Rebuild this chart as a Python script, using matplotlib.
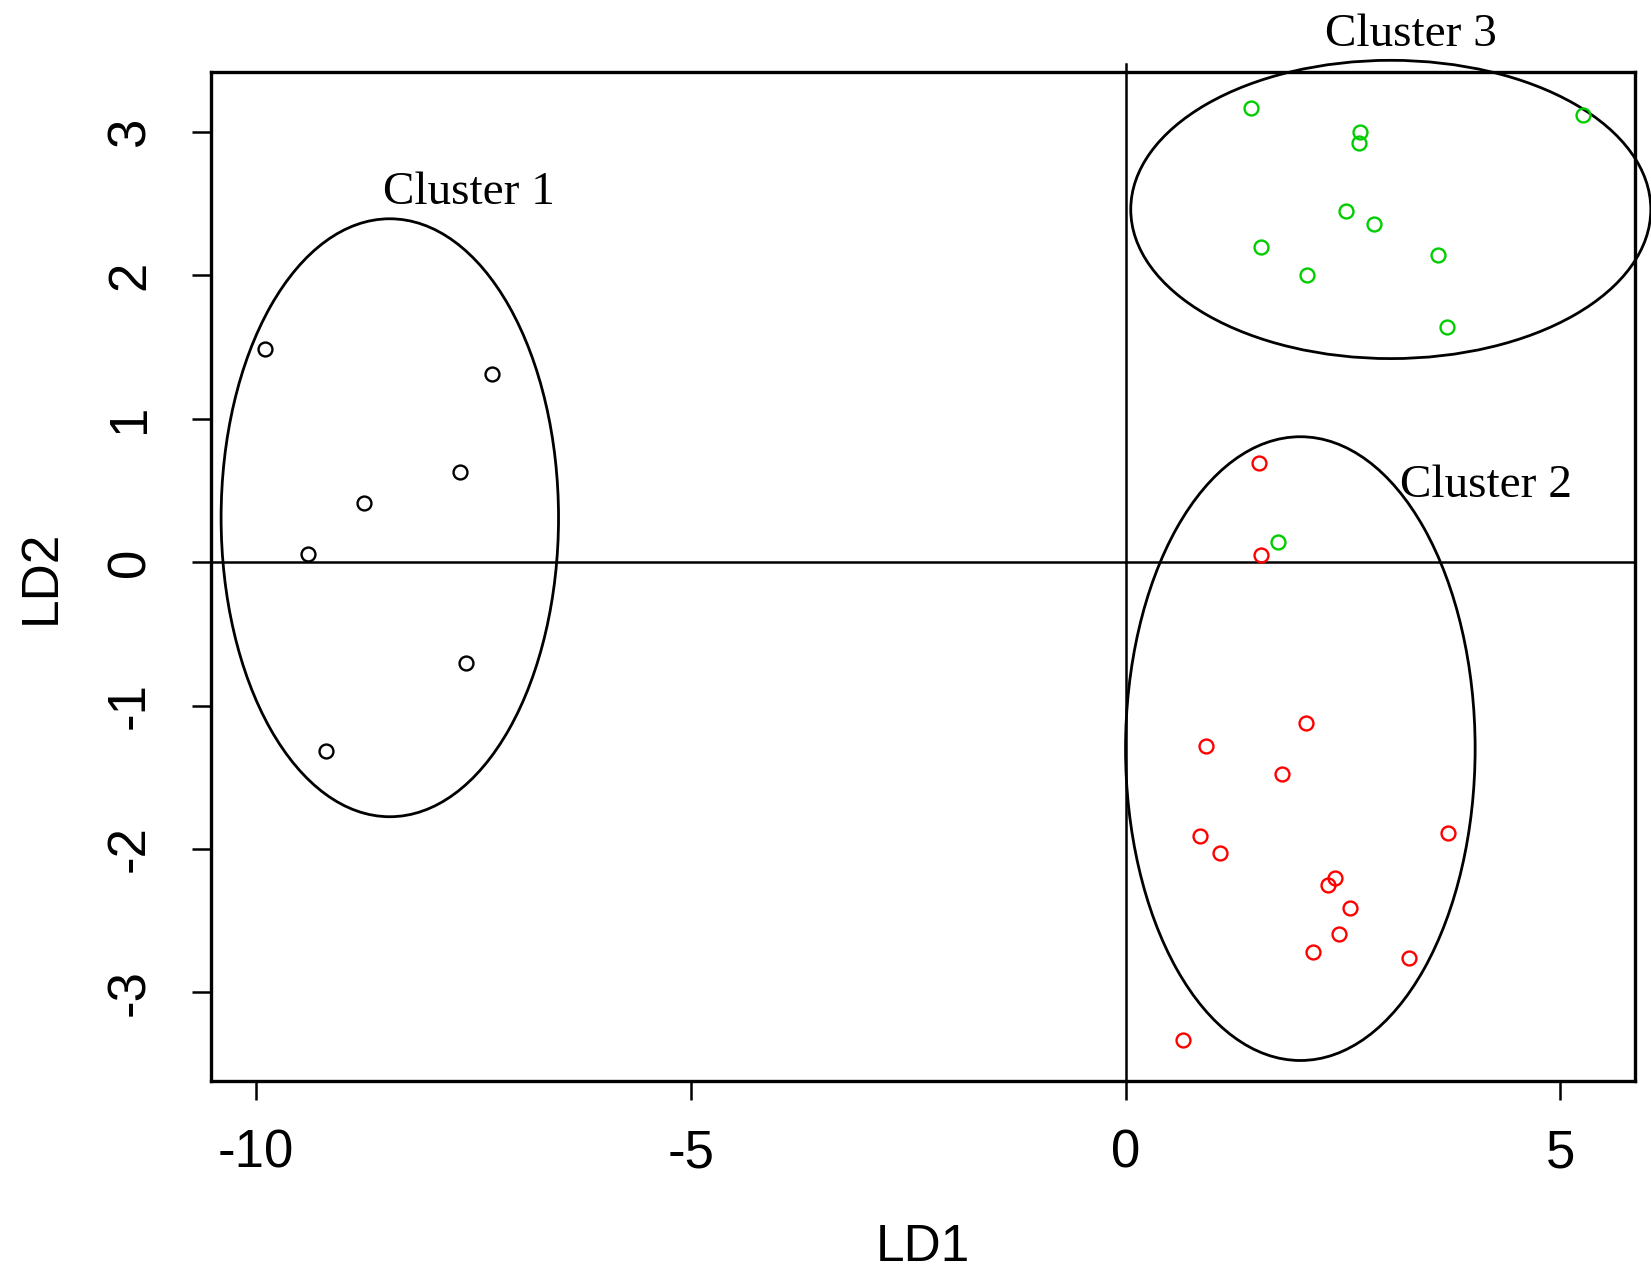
import matplotlib
matplotlib.use("Agg")
import matplotlib.pyplot as plt
from matplotlib.patches import Ellipse

plt.rcParams['axes.unicode_minus'] = False
plt.rcParams['font.family'] = ['Liberation Sans', 'DejaVu Sans']

# Cluster 1 (black)
c1_x = [-9.89, -7.28, -7.65, -8.76, -9.40, -7.58, -9.19]
c1_y = [1.49, 1.31, 0.63, 0.41, 0.06, -0.70, -1.32]

# Cluster 2 (red)
c2_x = [1.53, 1.56, 2.08, 0.92, 1.80, 3.71, 0.86, 1.09, 2.41, 2.33, 2.58, 2.45, 2.15, 3.26, 0.66]
c2_y = [0.69, 0.05, -1.12, -1.28, -1.48, -1.89, -1.91, -2.03, -2.20, -2.25, -2.41, -2.59, -2.72, -2.76, -3.33]

# Cluster 3 (green)
c3_x = [1.44, 2.70, 2.69, 5.26, 2.53, 2.86, 1.56, 2.09, 3.59, 3.70, 1.75]
c3_y = [3.17, 3.00, 2.92, 3.12, 2.45, 2.36, 2.20, 2.00, 2.14, 1.64, 0.14]

# Ellipses around clusters (center x, center y, width, height)
ell_cx = [-8.46, 2.01, 3.05]
ell_cy = [0.31, -1.30, 2.46]
ell_w = [3.88, 4.02, 5.98]
ell_h = [4.17, 4.35, 2.08]

# Cluster labels
lab_text = ["Cluster 1", "Cluster 2", "Cluster 3"]
lab_x = [-7.55, 4.14, 3.28]
lab_y = [2.575, 0.53, 3.68]

xticks = [-10, -5, 0, 5]
yticks = [-3, -2, -1, 0, 1, 2, 3]

fig = plt.figure(figsize=(16.51, 12.73), dpi=100)
ax = fig.add_axes([0.1276, 0.1506, 0.8628, 0.7930])

ax.set_xlim(-10.52, 5.86)
ax.set_ylim(-3.62, 3.42)

ax.axhline(0, color='black', lw=1.8, zorder=1)
ax.axvline(0, color='black', lw=1.8, ymin=0, ymax=1.008, clip_on=False, zorder=1)

mk = dict(marker='o', linestyle='none', markerfacecolor='none', markersize=10, markeredgewidth=1.7)
ax.plot(c1_x, c1_y, markeredgecolor='black', **mk, zorder=3)
ax.plot(c2_x, c2_y, markeredgecolor='#FF0000', **mk, zorder=3)
ax.plot(c3_x, c3_y, markeredgecolor='#00CD00', **mk, zorder=3)

for cx, cy, w, h in zip(ell_cx, ell_cy, ell_w, ell_h):
    e = Ellipse((cx, cy), w, h, fill=False, edgecolor='black', lw=2.0, clip_on=False, zorder=2)
    ax.add_patch(e)

for t, x, y in zip(lab_text, lab_x, lab_y):
    ax.text(x, y, t, ha='center', va='center', fontsize=34,
            family=['Liberation Serif', 'DejaVu Serif'], clip_on=False, zorder=4)

ax.set_xticks(xticks)
ax.set_xticklabels([str(v) for v in xticks])
ax.set_yticks(yticks)
ax.set_yticklabels([str(v) for v in yticks], rotation=90, va='center')

ax.tick_params(axis='both', length=14, width=1.8, labelsize=38, direction='out')
ax.tick_params(axis='x', pad=20)
ax.tick_params(axis='y', pad=26)

for s in ax.spines.values():
    s.set_linewidth(2.4)

ax.set_xlabel("LD1", fontsize=37, labelpad=32)
ax.set_ylabel("LD2", fontsize=37, labelpad=28)

fig.savefig("out.png", dpi=100)
